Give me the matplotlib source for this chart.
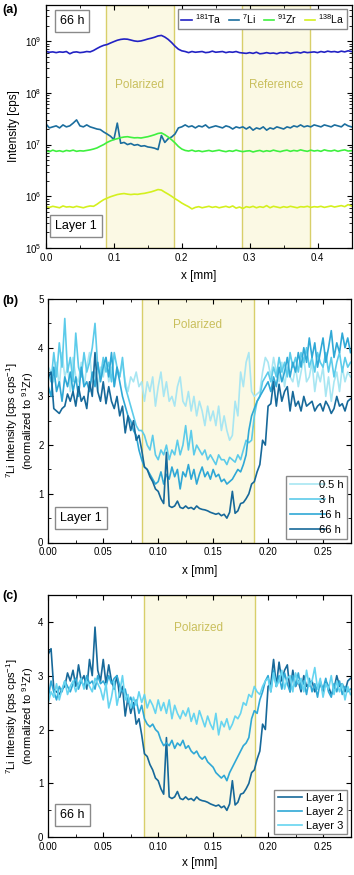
import numpy as np
import matplotlib
matplotlib.use("Agg")
import matplotlib.pyplot as plt
from matplotlib.ticker import MultipleLocator, LogLocator, NullFormatter

plt.rcParams['font.family'] = ['Liberation Sans', 'DejaVu Sans']
plt.rcParams['mathtext.fontset'] = 'custom'
plt.rcParams['mathtext.rm'] = 'Liberation Sans'
plt.rcParams['mathtext.default'] = 'regular'

# ---- panel (a): raw intensities along the line scan, step 0.005 mm ----
x_a = np.linspace(0, 0.45, 91)
ta = np.array([
    6.3, 6.1, 6.2, 6.0, 6.2, 6.1, 6.3, 5.7, 6.1, 6.2,
    6.0, 6.1, 6.3, 6.2, 6.6, 7.2, 7.8, 8.3, 8.6, 9.2,
    9.8, 10.4, 10.8, 11.0, 10.9, 10.5, 10.1, 9.9, 10.1, 10.5,
    11.0, 11.4, 11.9, 12.6, 12.9, 12.0, 10.8, 9.4, 8.0, 7.0,
    6.5, 6.3, 6.0, 6.3, 6.1, 6.2, 6.3, 6.0, 6.1, 6.4,
    6.1, 6.2, 6.3, 6.0, 6.2, 6.1, 6.3, 6.0, 5.9, 5.8,
    6.0, 5.8, 6.1, 5.7, 5.8, 6.0, 5.8, 5.9, 5.7, 6.0,
    5.9, 6.1, 5.8, 6.0, 6.1, 5.9, 6.2, 6.0, 6.1, 6.2,
    6.0, 6.3, 6.1, 6.4, 6.2, 6.3, 6.1, 6.4, 6.2, 6.5,
    6.3]) * 1e8
li = np.array([
    2.5, 2.1, 2.2, 2.3, 2.1, 2.4, 2.2, 2.3, 2.6, 3.0,
    2.3, 2.2, 2.4, 2.2, 2.1, 2.0, 1.95, 1.75, 1.6, 1.45,
    1.25, 2.6, 1.06, 1.1, 1.0, 1.05, 0.97, 1.0, 0.93, 0.95,
    0.9, 0.88, 0.85, 0.8, 1.5, 1.1, 1.3, 1.4, 1.6, 2.1,
    2.2, 2.4, 2.2, 2.3, 2.1, 2.3, 2.2, 2.4, 2.1, 2.2,
    2.3, 2.2, 2.1, 2.3, 2.2, 2.0, 2.2, 2.1, 2.2, 2.0,
    2.2, 1.9, 2.1, 2.0, 2.2, 1.9, 2.1, 2.0, 2.2, 2.1,
    2.0, 2.2, 2.1, 2.3, 2.2, 2.4, 2.2, 2.3, 2.2, 2.4,
    2.3, 2.2, 2.4, 2.3, 2.2, 2.4, 2.3, 2.2, 2.5, 2.3,
    2.2]) * 1e7
zr = np.array([
    7.5, 7.3, 7.8, 7.4, 7.6, 7.3, 7.7, 7.5, 7.8, 7.4,
    7.6, 7.5, 7.7, 7.9, 8.2, 8.6, 9.3, 10.0, 11.0, 11.8,
    12.5, 13.0, 13.6, 14.0, 14.2, 13.8, 13.5, 13.6, 13.4, 13.8,
    14.2, 14.8, 15.5, 16.4, 16.8, 15.5, 14.0, 12.4, 10.8, 9.2,
    8.2, 7.7, 7.5, 7.8, 7.4, 7.6, 7.3, 7.5, 7.7, 7.4,
    7.6, 7.8, 7.5, 7.3, 7.6, 7.4, 7.8, 7.5, 7.3, 7.5,
    7.6, 7.2, 7.5, 7.7, 7.3, 7.6, 7.4, 7.8, 7.5, 7.3,
    7.6, 7.8, 7.4, 7.7, 7.5, 7.9, 7.6, 7.4, 7.8, 7.5,
    7.7, 7.4, 7.9, 7.6, 7.5, 7.8, 7.4, 7.7, 7.9, 7.5,
    7.6]) * 1e6
la = np.array([
    6.3, 6.1, 6.4, 6.2, 6.0, 6.5, 6.2, 6.3, 6.1, 6.4,
    6.2, 6.0, 6.3, 6.5, 6.4, 7.0, 7.8, 8.6, 9.2, 9.8,
    10.3, 10.8, 11.1, 11.3, 11.0, 10.8, 11.0, 10.9, 11.2, 11.4,
    11.8, 12.2, 12.8, 13.5, 13.2, 12.0, 11.0, 10.0, 9.0, 8.2,
    7.4, 6.8, 6.3, 5.7, 6.1, 6.3, 6.0, 6.2, 6.4, 6.1,
    6.3, 6.0, 6.2, 6.4, 6.1, 6.5, 5.9, 6.2, 5.8, 6.3,
    6.1, 6.4, 6.0, 6.3, 6.1, 6.6, 6.0, 6.4, 6.2, 6.0,
    6.3, 6.1, 6.4, 6.2, 6.0, 6.3, 6.2, 6.4, 6.1, 6.3,
    6.2, 6.4, 6.1, 6.3, 6.5, 6.2, 6.4, 6.6, 6.3, 6.9,
    6.5]) * 1e5
labels_a = ["$^{181}$Ta", "$^{7}$Li", "$^{91}$Zr", "$^{138}$La"]

# ---- panels (b), (c): Li normalized to Zr, step 0.0025 mm ----
x_b = np.linspace(0, 0.275, 111)
li_05h = [
    3.60, 3.50, 3.30, 3.70, 3.20, 3.90, 3.40, 3.60, 3.10, 3.80,
    3.40, 3.30, 3.70, 3.20, 3.60, 3.90, 3.30, 3.50, 3.10, 3.60,
    3.40, 3.80, 3.30, 3.60, 3.20, 3.50, 3.40, 3.70, 3.30, 3.10,
    3.40, 3.30, 3.50, 3.20, 3.30, 2.90, 3.30, 3.10, 3.40, 2.80,
    3.20, 3.50, 3.00, 3.30, 2.90, 3.00, 2.80, 3.20, 3.40, 2.90,
    2.80, 3.10, 2.70, 3.00, 2.60, 2.90, 2.70, 2.40, 2.80, 2.50,
    2.70, 2.40, 2.80, 2.30, 2.60, 2.30, 2.10, 2.20, 2.90, 2.60,
    3.50, 3.20, 3.70, 3.90, 3.10, 3.00, 3.05, 3.10, 3.50, 3.80,
    3.70, 3.40, 3.80, 3.50, 3.30, 3.70, 3.20, 3.60, 3.40, 3.30,
    3.60, 3.20, 3.50, 3.80, 3.30, 3.40, 3.70, 3.10, 3.50, 3.30,
    3.60, 3.00, 3.40, 2.90, 3.30, 3.50, 3.10, 3.60, 3.30, 3.50,
    3.40]
li_3h = [
    3.50, 3.30, 3.90, 3.40, 4.10, 3.60, 4.60, 3.50, 3.80, 3.30,
    4.30, 3.60, 3.40, 3.90, 3.50, 3.70, 4.00, 4.50, 3.60, 3.40,
    3.80, 3.50, 3.70, 3.30, 3.90, 3.60, 3.40, 3.80, 3.20, 3.00,
    2.80, 2.60, 2.40, 2.30, 2.30, 2.20, 2.00, 1.90, 2.20, 1.80,
    1.70, 1.90, 1.80, 2.00, 1.70, 1.90, 1.80, 2.10, 1.80, 2.00,
    2.40, 1.90, 2.30, 1.80, 2.00, 1.90, 1.80, 1.90, 1.70, 1.80,
    1.70, 1.60, 1.80, 1.70, 1.70, 1.60, 1.75, 1.70, 1.65, 1.80,
    1.70, 1.90, 2.10, 2.05, 2.10, 2.60, 2.90, 3.00, 3.30, 3.40,
    3.50, 3.30, 3.60, 3.40, 3.80, 3.50, 3.70, 3.40, 3.90, 3.60,
    3.80, 3.50, 3.90, 3.70, 4.00, 3.60, 3.80, 3.50, 3.90, 3.70,
    3.60, 3.90, 3.50, 3.80, 3.40, 3.70, 3.90, 3.50, 3.80, 3.60,
    3.70]
li_16h = [
    3.20, 3.00, 3.60, 3.10, 3.30, 2.90, 3.40, 3.20, 3.50, 3.10,
    3.40, 3.00, 3.60, 3.20, 3.30, 3.10, 3.50, 3.20, 3.70, 3.30,
    3.60, 3.80, 3.40, 3.90, 3.20, 3.60, 3.30, 3.00, 2.80, 2.60,
    2.50, 2.30, 2.20, 1.90, 1.70, 1.55, 1.50, 1.40, 1.30, 1.20,
    1.25, 1.45, 1.20, 1.40, 1.30, 1.55, 1.35, 1.50, 1.10, 1.45,
    1.35, 1.60, 1.30, 1.50, 1.20, 1.40, 1.55, 1.35, 1.45, 1.30,
    1.50, 1.35, 1.40, 1.25, 1.30, 1.20, 1.25, 1.30, 1.40, 1.50,
    1.45, 1.60, 1.80, 2.30, 2.60, 2.75, 2.90, 3.00, 3.10, 3.20,
    3.30, 3.10, 3.40, 3.20, 3.60, 3.30, 3.50, 3.80, 3.40, 3.70,
    3.50, 3.90, 3.60, 4.00, 3.70, 4.20, 3.80, 4.10, 3.60, 3.90,
    4.20, 3.70, 4.00, 4.35, 3.80, 4.10, 3.90, 4.30, 4.00, 4.20,
    3.90]
li_66h = [
    3.40, 3.50, 2.75, 2.70, 2.65, 2.75, 2.80, 3.05, 2.90, 3.10,
    2.80, 3.20, 2.90, 3.00, 2.75, 3.30, 3.00, 3.90, 3.10, 2.90,
    3.30, 2.85, 3.20, 2.90, 2.75, 3.00, 2.60, 2.80, 2.25, 2.60,
    2.30, 2.50, 2.10, 2.20, 1.90, 1.55, 1.50, 1.35, 1.25, 1.10,
    1.05, 0.90, 0.80, 1.85, 0.75, 0.72, 0.75, 0.85, 0.72, 0.70,
    0.75, 0.70, 0.72, 0.68, 0.75, 0.70, 0.68, 0.67, 0.65, 0.62,
    0.60, 0.58, 0.60, 0.55, 0.58, 0.50, 0.62, 1.05, 0.60, 0.65,
    0.80, 0.82, 0.90, 1.00, 1.20, 1.25, 1.45, 1.60, 2.10, 2.00,
    2.80, 2.85, 3.30, 2.80, 3.25, 2.90, 3.10, 3.20, 2.70, 3.10,
    2.80, 2.90, 2.70, 3.00, 2.80, 2.85, 2.90, 2.70, 2.80, 2.85,
    2.70, 2.90, 2.80, 2.65, 2.75, 3.00, 2.80, 2.85, 2.70, 2.90,
    2.95]
li_layer1 = li_66h  # same 66 h scan of layer 1
li_layer2 = [
    2.60, 2.90, 2.70, 2.55, 2.80, 2.70, 2.90, 2.80, 2.70, 2.85,
    2.95, 2.75, 2.90, 2.80, 3.00, 2.85, 2.90, 2.75, 3.00, 2.85,
    2.90, 2.80, 3.00, 2.85, 2.95, 3.00, 2.80, 2.70, 2.75, 2.50,
    2.60, 2.40, 2.55, 2.30, 2.45, 2.20, 2.10, 2.05, 2.10, 2.00,
    1.95, 1.80, 1.70, 1.75, 1.70, 1.80, 1.65, 1.75, 1.70, 1.80,
    1.65, 1.70, 1.60, 1.55, 1.60, 1.50, 1.45, 1.50, 1.40, 1.35,
    1.30, 1.20, 1.15, 1.10, 1.15, 1.05, 1.20, 1.30, 1.40, 1.50,
    1.60, 1.70, 1.75, 1.85, 2.20, 2.35, 2.30, 2.55, 2.70, 2.90,
    3.00, 2.70, 3.10, 2.80, 3.00, 2.75, 3.05, 2.85, 2.70, 3.00,
    2.80, 3.05, 2.75, 2.90, 2.65, 2.95, 2.70, 2.85, 2.60, 2.90,
    2.75, 2.95, 2.70, 2.60, 2.85, 2.70, 2.90, 2.65, 2.80, 2.70,
    2.75]
li_layer3 = [
    2.50, 2.70, 2.60, 2.85, 2.55, 2.75, 2.90, 2.65, 2.80, 2.90,
    2.70, 2.85, 2.95, 2.75, 2.90, 2.80, 2.70, 2.95, 2.85, 2.75,
    2.55, 2.85, 2.40, 2.60, 2.90, 2.45, 2.70, 3.00, 2.55, 2.65,
    2.40, 2.60, 2.45, 2.70, 2.50, 2.65, 2.40, 2.55, 2.45, 2.30,
    2.55, 2.35, 2.50, 2.30, 2.55, 2.20, 2.45, 2.30, 2.20, 2.35,
    2.25, 2.40, 2.15, 2.30, 2.10, 2.35, 2.20, 2.05, 2.25, 2.10,
    2.00, 2.30, 1.90, 2.15, 2.05, 2.20, 2.00, 2.10, 2.25, 2.20,
    2.30, 2.50, 2.45, 2.65, 2.60, 2.80, 2.70, 2.65, 2.80, 2.90,
    2.95, 2.70, 3.05, 2.80, 2.90, 3.10, 2.75, 2.95, 3.00, 2.70,
    3.05, 2.85, 2.95, 2.70, 3.10, 2.80, 2.90, 3.15, 2.75, 2.95,
    2.60, 2.85, 2.75, 3.00, 2.65, 2.90, 2.70, 2.85, 2.55, 2.80,
    2.65]
labels_b = ["0.5 h", "3 h", "16 h", "66 h"]
labels_c = ["Layer 1", "Layer 2", "Layer 3"]

colors_a = ["#2222c4", "#1b6e9e", "#3ff03f", "#d4f01e"]
colors_b = ["#a8e6f2", "#5ccbea", "#2fa8d6", "#17699a"]
colors_c = ["#17699a", "#2fa8d6", "#66d4f0"]

SHADE = "#fbf9e4"
EDGE = "#d8cf6a"
TXT = "#c9bf5c"
YLAB_B = "$^{7}$Li Intensity [cps cps$^{-1}$]\n(normalized to $^{91}$Zr)"

W, H = 354, 875
fig = plt.figure(figsize=(W / 100, H / 100), dpi=100)


def px_axes(left, top, right, bottom):
    return fig.add_axes([left / W, 1 - bottom / H, (right - left) / W, (bottom - top) / H])


def shade(ax, x0, x1):
    ax.axvspan(x0, x1, facecolor=SHADE, edgecolor=EDGE, linewidth=1.0, zorder=0)


def boxed(ax, x, y, s):
    ax.text(x, y, s, transform=ax.transAxes, fontsize=9, ha="left", va="center",
            bbox=dict(boxstyle="square,pad=0.4", fc="white", ec="#8a8a8a", lw=1.0))


def style(ax):
    ax.tick_params(which="both", direction="in", top=True, right=True, labelsize=7)
    ax.tick_params(which="major", length=3.5, width=0.8)
    ax.tick_params(which="minor", length=2, width=0.6)
    for s in ax.spines.values():
        s.set_linewidth(0.9)


# (a)
ax = px_axes(46, 5, 351.5, 248)
shade(ax, 0.0885, 0.188)
shade(ax, 0.289, 0.389)
for y, c, lab in zip([ta, li, zr, la], colors_a, labels_a):
    ax.plot(x_a, y, color=c, lw=1.2, label=lab)
ax.set_yscale("log")
ax.set_xlim(0, 0.45)
ax.set_ylim(1e5, 5e9)
ax.xaxis.set_major_locator(MultipleLocator(0.1))
ax.xaxis.set_minor_locator(MultipleLocator(0.05))
ax.xaxis.set_major_formatter(plt.FuncFormatter(lambda v, p: f"{v:.1f}"))
ax.yaxis.set_major_locator(LogLocator(base=10, numticks=10))
ax.yaxis.set_minor_locator(LogLocator(base=10, subs=np.arange(2, 10), numticks=10))
ax.yaxis.set_minor_formatter(NullFormatter())
style(ax)
ax.text(0.138, 1.45e8, "Polarized", color=TXT, fontsize=8.5, ha="center", va="center")
ax.text(0.339, 1.45e8, "Reference", color=TXT, fontsize=8.5, ha="center", va="center")
ax.legend(loc="upper right", ncol=4, fontsize=7.5, handlelength=1.0, handletextpad=0.3,
          columnspacing=0.7, borderpad=0.3, borderaxespad=0.4, fancybox=False,
          edgecolor="#8a8a8a", framealpha=1)
boxed(ax, 0.045, 0.935, "66 h")
boxed(ax, 0.03, 0.09, "Layer 1")
ax.set_xlabel("x [mm]", fontsize=8.5)
ax.set_ylabel("Intensity [cps]", fontsize=8.5)
ax.xaxis.set_label_coords(0.5, -0.09)
ax.yaxis.set_label_coords(-0.085, 0.5)
fig.text(2 / W, 1 - 10 / H, "(a)", fontsize=9, fontweight="bold", va="center")

# (b)
ax = px_axes(48.3, 299, 350.5, 542.5)
shade(ax, 0.0857, 0.187)
for y, c, lab in zip([li_05h, li_3h, li_16h, li_66h], colors_b, labels_b):
    ax.plot(x_b, y, color=c, lw=1.2, label=lab)
ax.set_xlim(0, 0.275)
ax.set_ylim(0, 5)
ax.xaxis.set_major_locator(MultipleLocator(0.05))
ax.xaxis.set_minor_locator(MultipleLocator(0.025))
ax.xaxis.set_major_formatter(plt.FuncFormatter(lambda v, p: f"{v:.2f}"))
ax.yaxis.set_major_locator(MultipleLocator(1))
ax.yaxis.set_minor_locator(MultipleLocator(0.5))
style(ax)
ax.text(0.136, 4.47, "Polarized", color=TXT, fontsize=8.5, ha="center", va="center")
ax.legend(loc="lower right", fontsize=8, handlelength=3.2, handletextpad=-0.6,
          labelspacing=0.45, borderpad=0.35, borderaxespad=0.3, fancybox=False,
          edgecolor="#8a8a8a", framealpha=1)
boxed(ax, 0.04, 0.1, "Layer 1")
ax.set_xlabel("x [mm]", fontsize=8.5)
ax.set_ylabel(YLAB_B, fontsize=8, linespacing=0.95)
ax.xaxis.set_label_coords(0.5, -0.092)
ax.yaxis.set_label_coords(-0.042, 0.5)
fig.text(2 / W, 1 - 301 / H, "(b)", fontsize=9, fontweight="bold", va="center")

# (c)
ax = px_axes(48.3, 594.8, 350.5, 837.3)
shade(ax, 0.087, 0.188)
for y, c, lab in zip([li_layer1, li_layer2, li_layer3], colors_c, labels_c):
    ax.plot(x_b, y, color=c, lw=1.2, label=lab)
ax.set_xlim(0, 0.275)
ax.set_ylim(0, 4.5)
ax.xaxis.set_major_locator(MultipleLocator(0.05))
ax.xaxis.set_minor_locator(MultipleLocator(0.025))
ax.xaxis.set_major_formatter(plt.FuncFormatter(lambda v, p: f"{v:.2f}"))
ax.yaxis.set_major_locator(MultipleLocator(1))
ax.yaxis.set_minor_locator(MultipleLocator(0.5))
style(ax)
ax.text(0.137, 3.88, "Polarized", color=TXT, fontsize=8.5, ha="center", va="center")
ax.legend(loc="lower right", fontsize=8, handlelength=2.2, handletextpad=0.4,
          labelspacing=0.35, borderpad=0.3, borderaxespad=0.3, fancybox=False,
          edgecolor="#8a8a8a", framealpha=1)
boxed(ax, 0.04, 0.09, "66 h")
ax.set_xlabel("x [mm]", fontsize=8.5)
ax.set_ylabel(YLAB_B, fontsize=8, linespacing=0.95)
ax.xaxis.set_label_coords(0.5, -0.081)
ax.yaxis.set_label_coords(-0.042, 0.5)
fig.text(2 / W, 1 - 596 / H, "(c)", fontsize=9, fontweight="bold", va="center")

fig.savefig("out.png", dpi=100)
